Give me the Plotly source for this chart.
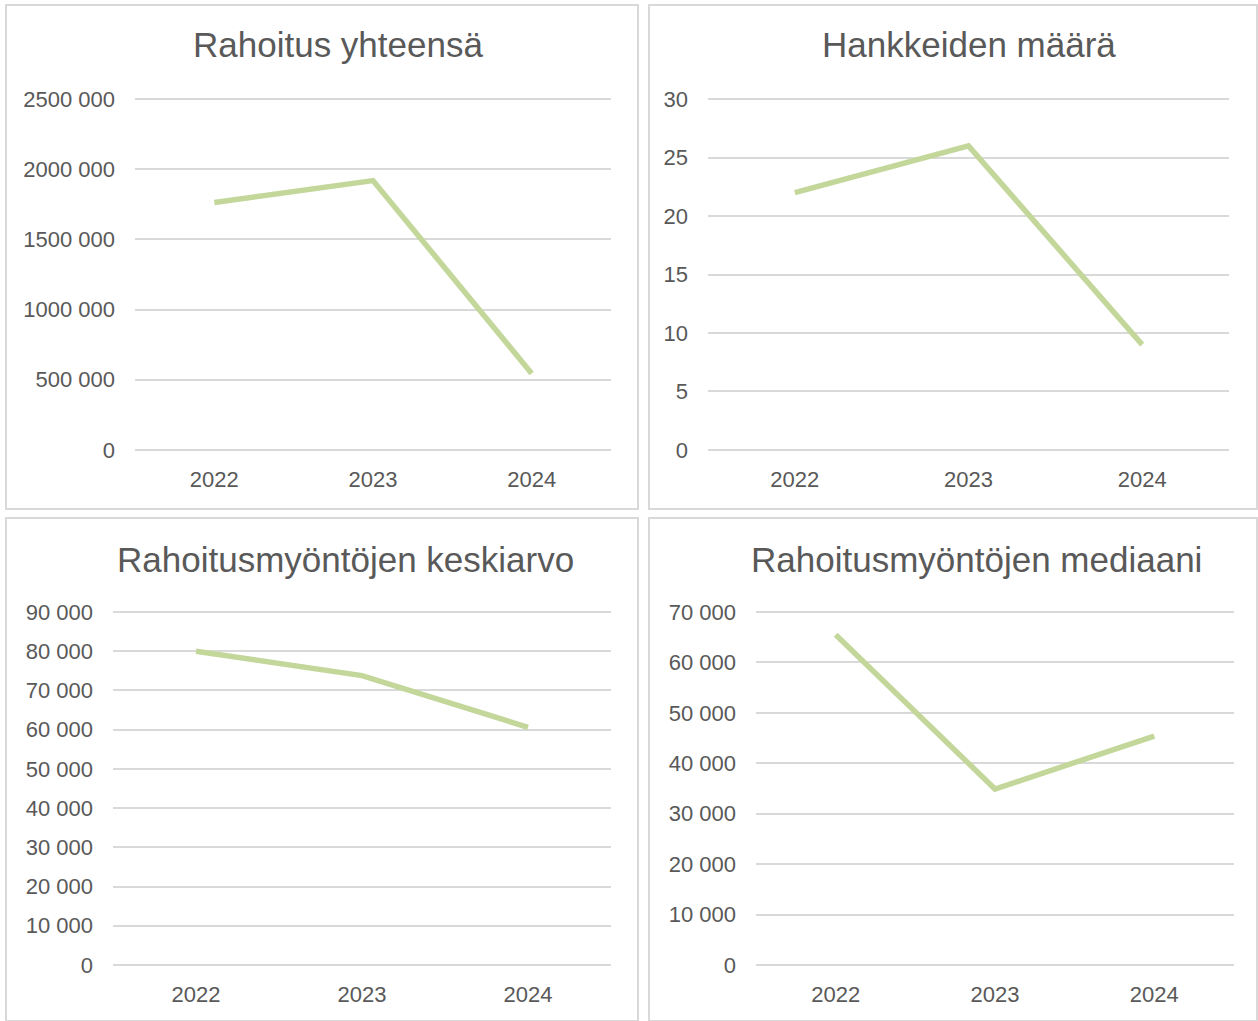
import plotly.graph_objects as go

years = ["2022", "2023", "2024"]
rahoitus_yhteensa = [1763000, 1919000, 545000]
hankkeiden_maara = [22, 26, 9]
keskiarvo = [80000, 73800, 60600]
mediaani = [65500, 34900, 45400]

titles = ["Rahoitus yhteensä", "Hankkeiden määrä",
          "Rahoitusmyöntöjen keskiarvo", "Rahoitusmyöntöjen mediaani"]

ticks1 = [0, 500000, 1000000, 1500000, 2000000, 2500000]
ticktext1 = ["0", "500 000", "1000 000", "1500 000", "2000 000", "2500 000"]
ticks2 = [0, 5, 10, 15, 20, 25, 30]
ticktext2 = ["0", "5", "10", "15", "20", "25", "30"]
ticks3 = [0, 10000, 20000, 30000, 40000, 50000, 60000, 70000, 80000, 90000]
ticktext3 = ["0", "10 000", "20 000", "30 000", "40 000", "50 000", "60 000",
             "70 000", "80 000", "90 000"]
ticks4 = [0, 10000, 20000, 30000, 40000, 50000, 60000, 70000]
ticktext4 = ["0", "10 000", "20 000", "30 000", "40 000", "50 000", "60 000", "70 000"]

W, H = 1258, 1021
LINE = "#c4d79b"
TXT = "#595959"
GRID = "#d9d9d9"
FONT = "Liberation Sans, Arial, sans-serif"

def px_x(a, b):
    return [a / W, b / W]

def px_y(top, bottom):
    return [(H - bottom) / H, (H - top) / H]

panels = [
    dict(data=rahoitus_yhteensa, ticks=ticks1, text=ticktext1,
         xd=px_x(135, 611), yd=px_y(98, 451), tx=338, ty=44),
    dict(data=hankkeiden_maara, ticks=ticks2, text=ticktext2,
         xd=px_x(708, 1229), yd=px_y(98, 451), tx=969, ty=44),
    dict(data=keskiarvo, ticks=ticks3, text=ticktext3,
         xd=px_x(113, 611), yd=px_y(611, 966), tx=345, ty=559),
    dict(data=mediaani, ticks=ticks4, text=ticktext4,
         xd=px_x(756, 1234), yd=px_y(611, 966), tx=976, ty=559),
]

fig = go.Figure()
annotations = []
for i, p in enumerate(panels):
    n = "" if i == 0 else str(i + 1)
    fig.add_trace(go.Scatter(
        x=years, y=p["data"], mode="lines",
        line=dict(color=LINE, width=5.5),
        xaxis="x" + n, yaxis="y" + n, showlegend=False,
        cliponaxis=False, hoverinfo="x+y"))
    top = p["ticks"][-1]
    eps = top * 0.003
    fig.update_layout(**{
        "xaxis" + n: dict(domain=p["xd"], anchor="y" + n, type="category",
                          range=[-0.5, 2.5], showgrid=False, zeroline=False,
                          showline=False, ticks="", ticklabelstandoff=13,
                          automargin=False,
                          tickfont=dict(family=FONT, size=22, color=TXT),
                          fixedrange=True),
        "yaxis" + n: dict(domain=p["yd"], anchor="x" + n,
                          range=[-eps, top + eps], tickvals=p["ticks"],
                          ticktext=p["text"], showgrid=True, gridcolor=GRID,
                          gridwidth=2, zeroline=False, showline=False, ticks="",
                          ticklabelstandoff=19, automargin=False,
                          tickfont=dict(family=FONT, size=22, color=TXT),
                          fixedrange=True),
    })
    annotations.append(dict(
        text=titles[i], x=p["tx"] / W, y=(H - p["ty"]) / H,
        xref="paper", yref="paper", xanchor="center", yanchor="middle",
        showarrow=False, font=dict(family=FONT, size=35, color=TXT)))

boxes = [(6, 5, 638, 509), (649, 5, 1257, 509), (6, 518, 638, 1021), (649, 518, 1257, 1021)]
shapes = []
for (x0, y0, x1, y1) in boxes:
    shapes.append(dict(type="rect", xref="paper", yref="paper",
                       x0=x0 / W, x1=x1 / W, y0=(H - y1) / H, y1=(H - y0) / H,
                       line=dict(color=GRID, width=2), fillcolor="rgba(0,0,0,0)",
                       layer="below"))

fig.update_layout(
    width=W, height=H, margin=dict(l=0, r=0, t=0, b=0, pad=0, autoexpand=False),
    paper_bgcolor="white", plot_bgcolor="white",
    annotations=annotations, shapes=shapes,
    font=dict(family=FONT, color=TXT),
)

fig.write_html(
    "out.html",
    config={"displayModeBar": False},
    post_script=(
        "document.documentElement.style.margin='0';"
        "document.documentElement.style.overflow='hidden';"
        "document.body.style.margin='0';"
        "document.body.style.overflow='hidden';"
    ),
)
